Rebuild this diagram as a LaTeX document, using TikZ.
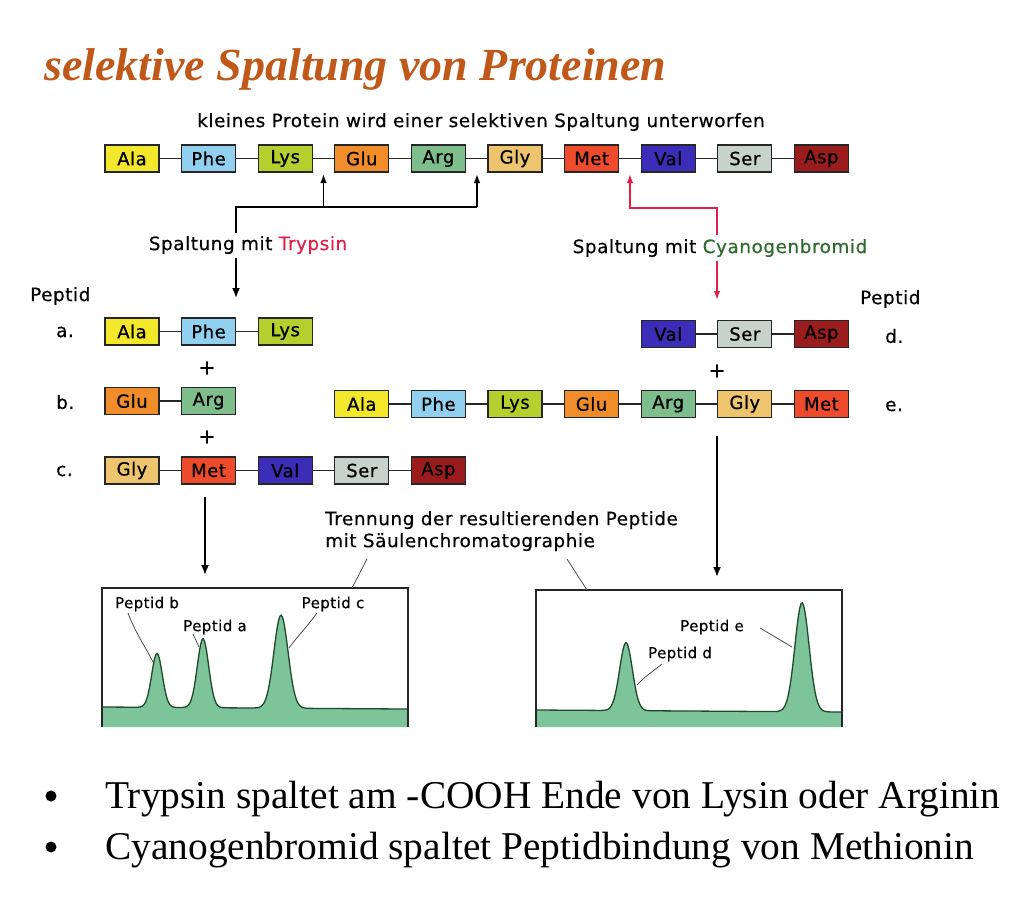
\documentclass[tikz,border=0pt]{standalone}
\usepackage{fontspec}
\setmainfont{Liberation Serif}
\newfontfamily\dia[LetterSpace=3,FakeBold=0.5]{DejaVu Sans}
\newfontfamily\boxfont[LetterSpace=3,FakeBold=0.9]{DejaVu Sans}
\usetikzlibrary{arrows.meta}

\definecolor{titlecol}{HTML}{C0581A}
\definecolor{ala}{HTML}{F3E72B}
\definecolor{phe}{HTML}{92D0F0}
\definecolor{lys}{HTML}{B5CF2E}
\definecolor{glu}{HTML}{F08C2A}
\definecolor{arg}{HTML}{7DBE8C}
\definecolor{gly}{HTML}{EFC46E}
\definecolor{met}{HTML}{EE4A2C}
\definecolor{val}{HTML}{3C2DB8}
\definecolor{ser}{HTML}{C6D2CB}
\definecolor{asp}{HTML}{9B1C1C}
\definecolor{cutred}{HTML}{E0204A}
\definecolor{cyangreen}{HTML}{2E6B2E}
\definecolor{peakfill}{HTML}{7DC49A}
\definecolor{peakline}{HTML}{1E4A28}

% one residue of a chain: prefix, column, row y, label, colour
\newcommand\residue[5]{\node[aa, fill=#5] (#1#2) at ({132+76.6*#2}, #3) {#4};}

\begin{document}
\begin{tikzpicture}[x=1pt, y=-1pt,
  aa/.style={draw=black!85, line width=1.1pt, minimum width=54pt, minimum height=27pt,
    inner sep=0pt, font=\boxfont\fontsize{18}{18}\selectfont},
  link/.style={line width=1.4pt, black!85},
  lab/.style={font=\dia\fontsize{18.4}{20}\selectfont, inner sep=0pt},
  small/.style={font=\dia\fontsize{15}{16}\selectfont, inner sep=0pt},
  cutarrow/.style={line width=1.6pt, -{Latex[length=9pt,width=6.5pt]}},
  flowarrow/.style={line width=1.8pt, -{Latex[length=10pt,width=8pt]}},
  leader/.style={line width=0.8pt, black!70},
  frame/.style={line width=1.3pt, black!85},
  declare function={pk(\x,\c,\s)=exp(max(-12,-((\x-\c)/\s)^2));}
]
\useasboundingbox (0,0) rectangle (1024,899);

% title
\node[anchor=base west, inner sep=0pt, text=titlecol,
  font=\fontsize{46}{50}\selectfont\bfseries\itshape] (title) at (44,80)
  {selektive Spaltung von Proteinen};

% whole protein
\node[lab] (toplab) at (481,122) {kleines Protein wird einer selektiven Spaltung unterworfen};
\residue{t}{0}{158.5}{Ala}{ala}
\residue{t}{1}{158.5}{Phe}{phe}
\residue{t}{2}{158.5}{Lys}{lys}
\residue{t}{3}{158.5}{Glu}{glu}
\residue{t}{4}{158.5}{Arg}{arg}
\residue{t}{5}{158.5}{Gly}{gly}
\residue{t}{6}{158.5}{Met}{met}
\residue{t}{7}{158.5}{Val}{val}
\residue{t}{8}{158.5}{Ser}{ser}
\residue{t}{9}{158.5}{Asp}{asp}
\foreach \i [evaluate=\i as \j using int(\i+1)] in {0,...,8}
  \draw[link] (t\i) -- (t\j);

% trypsin cuts
\coordinate (cutLG) at (323.5,174);
\coordinate (cutAG) at (477,174);
\coordinate (trjoin) at (236,207);
\coordinate (trA) at (323.5,207);
\coordinate (trB) at (477,207);
\node[lab] (trlab) at (248,245) {Spaltung mit \textcolor{cutred}{Trypsin}};
\coordinate (trup) at (236,233);
\coordinate (trdown) at (236,258);
\coordinate (trtip) at (236,298);
\draw[line width=1.6pt] (trup) -- (trjoin) -- (trB);
\draw[cutarrow] (trA) -- (cutLG);
\draw[cutarrow] (trB) -- (cutAG);
\draw[flowarrow, line width=1.6pt] (trdown) -- (trtip);

% cyanogen bromide cut
\coordinate (cutMV) at (630,174);
\coordinate (cnA) at (630,208);
\coordinate (cnB) at (717,208);
\node[lab] (cnlab) at (720,248) {Spaltung mit \textcolor{cyangreen}{Cyanogenbromid}};
\coordinate (cnup) at (717,235);
\coordinate (cndown) at (717,261);
\coordinate (cntip) at (717,300);
\draw[cutarrow, cutred] (cnup) -- (cnB) -- (cnA) -- (cutMV);
\draw[cutarrow, cutred] (cndown) -- (cntip);

% trypsin fragments
\node[lab, anchor=west] (pepL) at (30,296) {Peptid};
\node[lab, anchor=west] (la) at (56,332) {a.};
\node[lab, anchor=west] (lb) at (56,402) {b.};
\node[lab, anchor=west] (lc) at (56,471) {c.};
\residue{a}{0}{331.5}{Ala}{ala}
\residue{a}{1}{331.5}{Phe}{phe}
\residue{a}{2}{331.5}{Lys}{lys}
\draw[link] (a0) -- (a1); \draw[link] (a1) -- (a2);
\node[lab, font=\dia\fontsize{20}{20}\selectfont] (plus1) at (207,368) {+};
\residue{b}{0}{401}{Glu}{glu}
\residue{b}{1}{401}{Arg}{arg}
\draw[link] (b0) -- (b1);
\node[lab, font=\dia\fontsize{20}{20}\selectfont] (plus2) at (207,437) {+};
\residue{c}{0}{470.5}{Gly}{gly}
\residue{c}{1}{470.5}{Met}{met}
\residue{c}{2}{470.5}{Val}{val}
\residue{c}{3}{470.5}{Ser}{ser}
\residue{c}{4}{470.5}{Asp}{asp}
\foreach \i [evaluate=\i as \j using int(\i+1)] in {0,...,3}
  \draw[link] (c\i) -- (c\j);

% cyanogen bromide fragments
\node[lab, anchor=west] (pepR) at (860,299) {Peptid};
\node[lab, anchor=west] (ld) at (885,336) {d.};
\node[lab, anchor=west] (le) at (885,406) {e.};
\residue{d}{7}{334}{Val}{val}
\residue{d}{8}{334}{Ser}{ser}
\residue{d}{9}{334}{Asp}{asp}
\draw[link] (d7) -- (d8); \draw[link] (d8) -- (d9);
\node[lab, font=\dia\fontsize{20}{20}\selectfont] (plus3) at (717,371) {+};
\residue{e}{3}{404}{Ala}{ala}
\residue{e}{4}{404}{Phe}{phe}
\residue{e}{5}{404}{Lys}{lys}
\residue{e}{6}{404}{Glu}{glu}
\residue{e}{7}{404}{Arg}{arg}
\residue{e}{8}{404}{Gly}{gly}
\residue{e}{9}{404}{Met}{met}
\foreach \i [evaluate=\i as \j using int(\i+1)] in {3,...,8}
  \draw[link] (e\i) -- (e\j);

% to the columns
\coordinate (ldown0) at (205,497);
\coordinate (ldown1) at (205,575);
\coordinate (rdown0) at (717,436);
\coordinate (rdown1) at (717,577);
\draw[flowarrow] (ldown0) -- (ldown1);
\draw[flowarrow] (rdown0) -- (rdown1);

% chromatogram, trypsin fragments
\fill[peakfill] plot[domain=102:408, samples=240]
  (\x, {707 + 0.0066*(\x-102) - 54*pk(\x,157,7.5) - 69*pk(\x,203,8) - 93*pk(\x,281,10)})
  -- (408,727) -- (102,727) -- cycle;
\draw[peakline, line width=1.3pt] plot[domain=102:408, samples=240]
  (\x, {707 + 0.0066*(\x-102) - 54*pk(\x,157,7.5) - 69*pk(\x,203,8) - 93*pk(\x,281,10)});
\draw[frame] (102,727) -- (102,588) coordinate (lboxtl) -- (408,588) -- (408,727);

% chromatogram, cyanogen bromide fragments
\fill[peakfill] plot[domain=536:842, samples=240]
  (\x, {710 + 0.0066*(\x-536) - 68*pk(\x,626,9) - 109*pk(\x,802,10)})
  -- (842,727) -- (536,727) -- cycle;
\draw[peakline, line width=1.3pt] plot[domain=536:842, samples=240]
  (\x, {710 + 0.0066*(\x-536) - 68*pk(\x,626,9) - 109*pk(\x,802,10)});
\draw[frame] (536,727) -- (536,590) -- (842,590) -- (842,727);

% separation caption
\node[lab, anchor=north west, align=left, font=\dia\fontsize{18.4}{22}\selectfont] (seplab) at (325,511)
  {Trennung der resultierenden Peptide\\mit Säulenchromatographie};
\coordinate (sepL0) at (367,559);
\coordinate (sepL1) at (352,588);
\coordinate (sepR0) at (567,559);
\coordinate (sepR1) at (587,590);
\draw[leader] (sepL0) -- (sepL1);
\draw[leader] (sepR0) -- (sepR1);

% peak labels
\node[small] (pkb) at (147,604) {Peptid b};
\node[small] (pka) at (215,627) {Peptid a};
\node[small] (pkc) at (333,604) {Peptid c};
\node[small] (pke) at (712,627) {Peptid e};
\node[small] (pkd) at (680,654) {Peptid d};
\coordinate (pb1) at (153,662);
\coordinate (pa1) at (199,647);
\coordinate (pc1) at (289,648);
\coordinate (pe1) at (792,647);
\coordinate (pd1) at (637,685);
\draw[leader] (128,613) coordinate (pb0) .. controls (135,632) and (146,648) .. (pb1);
\draw[leader] (193,634) coordinate (pa0) -- (pa1);
\draw[leader] (317,613) coordinate (pc0) .. controls (306,628) and (296,638) .. (pc1);
\draw[leader] (760,628) coordinate (pe0) -- (pe1);
\draw[leader] (662,664) coordinate (pd0) .. controls (652,672) and (643,678) .. (pd1);

% notes
\node[anchor=base west, inner sep=0pt, font=\fontsize{39.4}{44}\selectfont] (n1) at (105,808)
  {Trypsin spaltet am -COOH Ende von Lysin oder Arginin};
\node[anchor=base west, inner sep=0pt, font=\fontsize{39.4}{44}\selectfont] (n2) at (105,859)
  {Cyanogenbromid spaltet Peptidbindung von Methionin};
\fill (51,796) circle (5.5) coordinate (b1);
\fill (51,847) circle (5.5) coordinate (b2);
\end{tikzpicture}
\end{document}
